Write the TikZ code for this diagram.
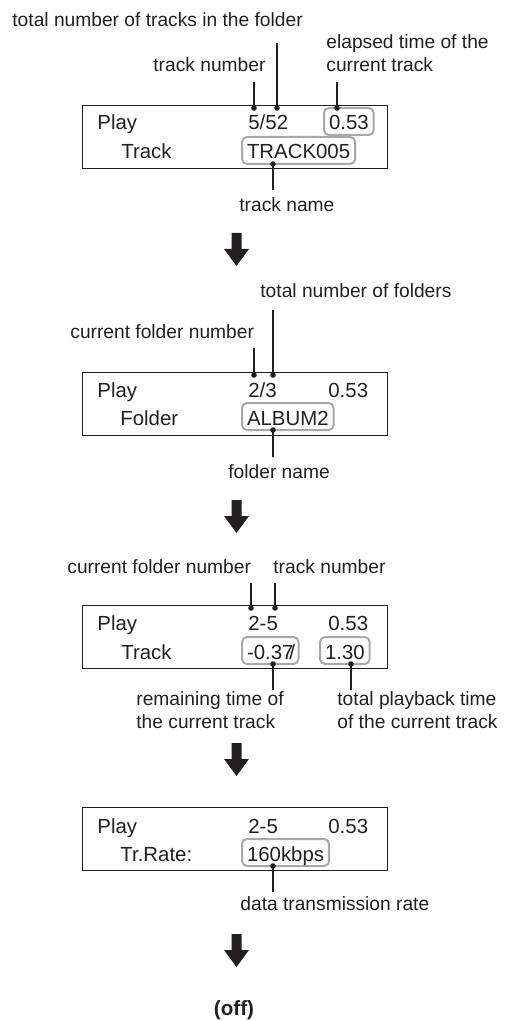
\documentclass[tikz,border=0pt]{standalone}
\usepackage{fontspec}
\setmainfont{Liberation Sans}
\definecolor{ink}{HTML}{231F20}
\definecolor{hlgray}{HTML}{A7A9AC}

\begin{document}
\begin{tikzpicture}[
      x=0.5pt, y=-0.5pt,
      every node/.style={inner sep=0pt, anchor=base west, text=ink},
      lbl/.style={font=\fontsize{9.6}{11.5}\selectfont, align=left},
      disp/.style={font=\fontsize{10.2}{12}\selectfont},
      hl/.style={disp, draw=hlgray, line width=1pt, rounded corners=2.5pt,
                 inner xsep=2.5pt, inner ysep=1pt, text height=10pt, text depth=1.5pt},
      screen/.style={draw=ink, line width=0.7pt, anchor=north west,
                     minimum width=152.5pt, minimum height=31.5pt},
      dot/.style={circle, fill=ink, anchor=center, minimum size=2.8pt},
      lead/.style={draw=ink, line width=1.1pt},
      down/.style={fill=ink}
    ]
    \useasboundingbox (0,0) rectangle (505,1021);

    % Anzeige 1: Titel
    \node[screen] (scr1) at (82,105) {};
    \node[disp] (play1) at (97,130) {Play};
    \node[disp] (cnt1)  at (248,130) {5/52};
    \node[hl]   (time1) at (323,130) {0.53};
    \node[disp] (mode1) at (121,159) {Track};
    \node[hl]   (name1) at (241,159) {TRACK005};

    \node[lbl] (l1a) at (12,27)  {total number of tracks in the folder};
    \node[lbl] (l1b) at (153,72) {track number};
    \node[lbl] (l1c) at (326,72) {elapsed time of the\\current track};
    \node[lbl] (l1d) at (239,212) {track name};

    \node[dot] (d1a) at (277,108) {};
    \node[dot] (d1b) at (254,108) {};
    \node[dot] (d1c) at (337,108) {};
    \node[dot] (d1d) at (273,164) {};
    \foreach \n/\h in {d1a/-65, d1b/-26, d1c/-26, d1d/26}{
      \draw[lead] (\n.center) -- ++(0,\h);
    }

    % Anzeige 2: Ordner
    \node[screen] (scr2) at (82,372) {};
    \node[disp] (play2) at (97,397) {Play};
    \node[disp] (cnt2)  at (248,397) {2/3};
    \node[disp] (time2) at (328,397) {0.53};
    \node[disp] (mode2) at (120,425) {Folder};
    \node[hl]   (name2) at (241,425) {ALBUM2};

    \node[lbl] (l2a) at (260,298) {total number of folders};
    \node[lbl] (l2b) at (70,338)  {current folder number};
    \node[lbl] (l2c) at (228,478) {folder name};

    \node[dot] (d2a) at (273,375) {};
    \node[dot] (d2b) at (254,375) {};
    \node[dot] (d2c) at (273,430) {};
    \foreach \n/\h in {d2a/-65, d2b/-27, d2c/27}{
      \draw[lead] (\n.center) -- ++(0,\h);
    }

    % Anzeige 3: Spielzeit
    \node[screen] (scr3) at (82,605) {};
    \node[disp] (play3) at (97,630) {Play};
    \node[disp] (cnt3)  at (248,630) {2-5};
    \node[disp] (time3) at (328,630) {0.53};
    \node[disp] (mode3) at (121,659) {Track};
    \node[hl]   (rem3)  at (241,659) {-0.37};
    \node[disp] (sl3)   at (289,659) {/};
    \node[hl]   (tot3)  at (319,659) {1.30};

    \node[lbl] (l3a) at (67,573)  {current folder number};
    \node[lbl] (l3b) at (273,573) {track number};
    \node[lbl] (l3c) at (136,728) {remaining time of\\the current track};
    \node[lbl] (l3d) at (337,728) {total playback time\\of the current track};

    \node[dot] (d3a) at (251,608) {};
    \node[dot] (d3b) at (275,608) {};
    \node[dot] (d3c) at (273,664) {};
    \node[dot] (d3d) at (351,664) {};
    \foreach \n/\h in {d3a/-25, d3b/-25, d3c/26, d3d/26}{
      \draw[lead] (\n.center) -- ++(0,\h);
    }

    % Anzeige 4: Bitrate
    \node[screen] (scr4) at (82,807) {};
    \node[disp] (play4) at (97,833) {Play};
    \node[disp] (cnt4)  at (248,833) {2-5};
    \node[disp] (time4) at (328,833) {0.53};
    \node[disp] (mode4) at (120,861) {Tr.Rate:};
    \node[hl]   (rate4) at (241,861) {160kbps};

    \node[lbl] (l4a) at (240,910) {data transmission rate};

    \node[dot] (d4a) at (273,866) {};
    \draw[lead] (d4a.center) -- ++(0,26);

    % Aus
    \node[font=\fontsize{10.3}{12}\selectfont\bfseries, anchor=base] (off) at (234,1015) {(off)};

    % Pfeile zwischen den Anzeigen
    \foreach \n/\y in {1/233, 2/500, 3/743, 4/934}{
      \coordinate (arr\n) at (236.5,\y);
      \fill[down] (arr\n) ++(-5,0) -- ++(10,0) -- ++(0,16) -- ++(7.5,0)
        -- ++(-12.5,17) -- ++(-12.5,-17) -- ++(7.5,0) -- cycle;
    }
  \end{tikzpicture}
\end{document}
